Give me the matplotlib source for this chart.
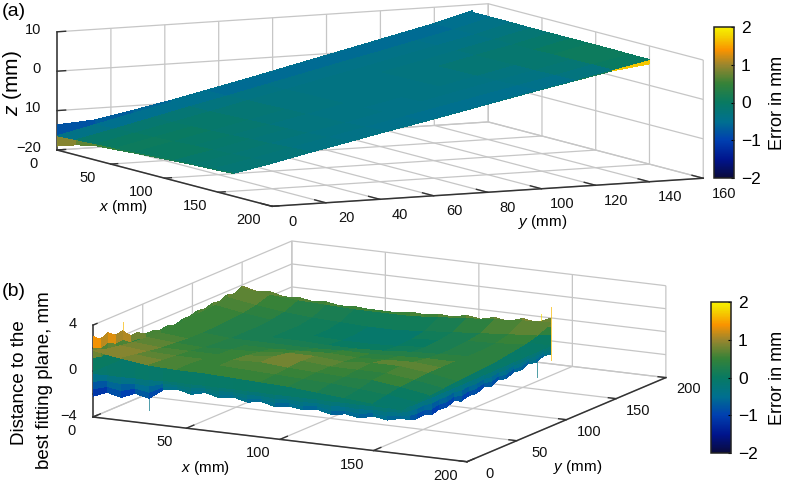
import numpy as np
import matplotlib
matplotlib.use("Agg")
import matplotlib.pyplot as plt
from matplotlib.cm import ScalarMappable
from matplotlib.colors import LinearSegmentedColormap, Normalize
from mpl_toolkits.mplot3d import proj3d

plt.rcParams['font.family'] = ['Liberation Sans', 'DejaVu Sans']
plt.rcParams['mathtext.fontset'] = 'custom'
plt.rcParams['mathtext.it'] = 'Liberation Sans:italic'
plt.rcParams['grid.color'] = '#c6c6c6'
plt.rcParams['grid.linewidth'] = 0.9

# panel (a): plate height and error on a grid
x_a = [0, 18, 37, 55, 73, 92, 110, 128, 147, 165]
y_a = [0, 14, 28, 42, 56, 70, 84, 98, 112, 126, 140, 154]
z_a = [
    [-16.4, -16.1, -15.8, -15.6, -15.3, -15.0, -14.7, -14.5, -14.2, -13.9],
    [-14.2, -14.0, -13.7, -13.5, -13.3, -13.0, -12.8, -12.6, -12.3, -11.9],
    [-12.0, -11.8, -11.6, -11.4, -11.2, -11.0, -10.7, -10.5, -10.2, -9.9],
    [-9.8, -9.6, -9.5, -9.3, -9.1, -8.9, -8.7, -8.5, -8.2, -7.9],
    [-7.6, -7.5, -7.3, -7.2, -7.0, -6.9, -6.7, -6.5, -6.2, -5.9],
    [-5.4, -5.3, -5.2, -5.0, -4.9, -4.8, -4.6, -4.4, -4.2, -4.0],
    [-3.2, -3.1, -3.0, -2.9, -2.8, -2.7, -2.6, -2.4, -2.2, -2.0],
    [-1.0, -0.9, -0.9, -0.8, -0.7, -0.6, -0.5, -0.3, -0.2, 0.0],
    [1.2, 1.2, 1.3, 1.3, 1.4, 1.5, 1.6, 1.7, 1.8, 2.0],
    [3.4, 3.4, 3.5, 3.5, 3.6, 3.6, 3.7, 3.7, 3.8, 3.9],
    [5.6, 5.6, 5.6, 5.7, 5.7, 5.7, 5.8, 5.8, 5.9, 5.9],
    [8.1, 8.1, 8.1, 8.0, 8.0, 8.0, 8.0, 8.0, 7.9, 7.9],
]
err_a = [
    [-0.4, -0.1, 0.0, 0.05, 0.0, 0.0, -0.1, -0.15, -0.2, -0.3],
    [-0.5, -0.15, -0.05, 0.0, -0.05, -0.1, -0.15, -0.2, -0.25, -0.4],
    [-0.5, -0.2, -0.1, -0.1, -0.15, -0.2, -0.25, -0.3, -0.35, -0.45],
    [-0.5, -0.3, -0.2, -0.2, -0.25, -0.3, -0.3, -0.35, -0.4, -0.5],
    [-0.55, -0.35, -0.3, -0.3, -0.3, -0.35, -0.35, -0.4, -0.45, -0.55],
    [-0.55, -0.4, -0.35, -0.35, -0.35, -0.35, -0.4, -0.4, -0.5, -0.6],
    [-0.55, -0.4, -0.35, -0.35, -0.35, -0.35, -0.35, -0.4, -0.5, -0.6],
    [-0.55, -0.4, -0.35, -0.3, -0.3, -0.3, -0.35, -0.4, -0.5, -0.6],
    [-0.55, -0.4, -0.35, -0.3, -0.2, -0.2, -0.3, -0.35, -0.45, -0.55],
    [-0.55, -0.45, -0.35, -0.25, -0.15, -0.15, -0.15, -0.2, -0.3, -0.5],
    [-0.5, -0.4, -0.3, -0.2, -0.1, 0.0, 0.05, 0.05, 0.0, -0.3],
    [-0.45, -0.35, -0.3, -0.15, -0.05, 0.1, 0.15, 0.2, 0.2, 0.3],
]
# lower rim of (a) along y=0 and along x=165, upper rim along x=0
rim_near_z = [-19.0, -17.4, -16.3, -16.0, -15.6, -15.3, -15.0, -14.7, -14.5, -14.2]
rim_near_err = [0.9, 0.7, 0.5, 0.3, 0.3, 0.2, 0.2, 0.1, 0.1, -0.3]
rim_far_z = [-14.1, -12.2, -10.1, -8.1, -6.1, -4.2, -2.2, -0.2, 1.8, 3.7, 5.6, 6.8]
rim_far_err = [-0.2, -0.3, -0.3, -0.3, -0.3, -0.3, -0.3, -0.2, -0.1, 0.2, 1.7, 1.9]
rim_back_z = [-13.6, -13.0, -11.2, -9.3, -7.2, -5.1, -2.9, -0.7, 1.5, 3.7, 5.9, 8.5]
rim_back_err = [-0.8, -0.7, -0.6, -0.5, -0.5, -0.5, -0.5, -0.5, -0.5, -0.5, -0.5, -0.5]

x_ticks_a = [0, 50, 100, 150, 200]
y_ticks_a = [0, 20, 40, 60, 80, 100, 120, 140, 160]
z_ticks_a = [-20, -10, 0, 10]
z_labels_a = ['\u221220', '10', '0', '10']

# panel (b): distance to the plane on a grid
x_b = [0, 15, 30, 45, 60, 75, 90, 105, 120, 135, 150, 165]
y_b = [0, 14, 27, 41, 55, 68, 82, 95, 109, 123, 136, 150]
z_b = [
    [1.8, 1.4, 1.1, 1.0, 1.0, 0.9, 0.8, 0.7, 0.5, 0.3, 0.1, -0.2],
    [1.4, 1.2, 1.0, 1.0, 1.1, 1.0, 0.9, 0.8, 0.7, 0.5, 0.3, 0.0],
    [1.2, 1.0, 0.9, 0.9, 1.1, 1.2, 1.0, 0.9, 0.8, 0.8, 0.5, 0.1],
    [1.0, 0.8, 0.8, 0.8, 1.0, 1.2, 1.1, 0.9, 0.9, 0.9, 0.6, 0.2],
    [0.9, 0.7, 0.6, 0.7, 0.8, 1.0, 1.0, 0.8, 1.0, 1.0, 0.7, 0.3],
    [0.8, 0.6, 0.5, 0.6, 0.6, 0.7, 0.8, 0.7, 0.8, 0.9, 0.7, 0.4],
    [0.9, 0.6, 0.4, 0.4, 0.4, 0.4, 0.5, 0.5, 0.6, 0.7, 0.7, 0.5],
    [1.0, 0.6, 0.4, 0.3, 0.3, 0.2, 0.2, 0.3, 0.5, 0.6, 0.7, 0.6],
    [1.1, 0.7, 0.4, 0.3, 0.2, 0.1, 0.1, 0.2, 0.4, 0.6, 0.7, 0.8],
    [1.2, 0.8, 0.5, 0.3, 0.2, 0.1, 0.1, 0.3, 0.5, 0.7, 0.8, 1.0],
    [1.4, 1.0, 0.7, 0.5, 0.4, 0.3, 0.3, 0.5, 0.7, 0.9, 1.1, 1.3],
    [1.7, 1.4, 1.2, 1.1, 1.0, 1.0, 1.0, 1.2, 1.4, 1.6, 1.8, 1.9],
]
err_b = [
    [0.9, 0.8, 0.6, 0.5, 0.5, 0.5, 0.4, 0.3, 0.2, 0.1, -0.1, -0.3],
    [0.9, 0.7, 0.6, 0.5, 0.6, 0.6, 0.5, 0.4, 0.3, 0.2, 0.0, -0.2],
    [0.8, 0.6, 0.5, 0.5, 0.7, 0.8, 0.6, 0.5, 0.4, 0.5, 0.2, -0.1],
    [0.7, 0.5, 0.4, 0.5, 0.6, 0.8, 0.7, 0.6, 0.5, 0.6, 0.3, 0.0],
    [0.6, 0.4, 0.3, 0.4, 0.5, 0.6, 0.6, 0.5, 0.7, 0.7, 0.4, 0.1],
    [0.5, 0.4, 0.3, 0.3, 0.3, 0.4, 0.5, 0.4, 0.5, 0.6, 0.4, 0.2],
    [0.5, 0.3, 0.2, 0.2, 0.2, 0.2, 0.3, 0.3, 0.3, 0.4, 0.4, 0.3],
    [0.5, 0.3, 0.2, 0.1, 0.1, 0.0, 0.0, 0.1, 0.2, 0.3, 0.4, 0.4],
    [0.5, 0.3, 0.2, 0.1, 0.0, -0.1, -0.1, 0.0, 0.2, 0.3, 0.4, 0.5],
    [0.6, 0.4, 0.2, 0.1, 0.0, -0.1, -0.1, 0.1, 0.2, 0.4, 0.5, 0.7],
    [0.7, 0.5, 0.3, 0.2, 0.1, 0.1, 0.1, 0.2, 0.4, 0.6, 0.7, 1.0],
    [0.9, 0.7, 0.5, 0.4, 0.3, 0.3, 0.3, 0.5, 0.7, 0.9, 1.2, 1.4],
]
# envelope of the noise along the four plate edges
edge_x_b = [0, 7.5, 15, 22.5, 30, 37.5, 45, 52.5, 60, 67.5, 75, 82.5, 90, 97.5, 105, 112.5,
            120, 127.5, 135, 142.5, 150, 157.5, 165]
edge_y_b = [0, 7.5, 15, 22.5, 30, 37.5, 45, 52.5, 60, 67.5, 75, 82.5, 90, 97.5, 105, 112.5,
            120, 127.5, 135, 142.5, 150]
low_near_b = [-2.2, -1.7, -2.0, -1.5, -1.8, -0.9, -0.7, -1.0, -0.7, -1.0, -0.8, -1.1, -0.9,
              -1.2, -1.0, -1.2, -1.0, -1.3, -1.1, -1.3, -1.0, -1.2, -0.9]
low_far_b = [-0.9, -1.3, -1.5, -1.4, -1.7, -1.5, -1.6, -1.3, -1.6, -1.4, -1.5, -1.2, -1.4,
             -1.1, -1.3, -1.0, -1.1, -0.8, -1.0, -0.7, -0.8]
high_left_b = [3.0, 2.5, 2.8, 2.3, 2.4, 1.7, 1.7, 1.3, 1.3, 1.1, 1.2, 1.0, 1.2, 1.2, 1.4,
               1.3, 1.5, 1.4, 1.7, 1.5, 1.9]
high_back_b = [1.9, 1.6, 1.7, 1.4, 1.5, 1.3, 1.4, 1.2, 1.3, 1.2, 1.2, 1.2, 1.4, 1.3, 1.5,
               1.4, 1.7, 1.5, 1.8, 1.6, 2.0, 1.8, 2.3]
# a few single spikes
spike_x_b = [30, 0, 165, 160, 165]
spike_y_b = [0, 30, 150, 150, 136]
spike_lo_b = [-2.8, 1.0, -1.3, 0.5, -2.3]
spike_hi_b = [-0.5, 3.2, 3.3, 2.6, -0.8]
spike_err_b = [-0.4, 1.6, 1.6, 1.8, -0.3]

x_ticks_b = [0, 50, 100, 150, 200]
y_ticks_b = [0, 50, 100, 150, 200]
z_ticks_b = [-4, -2, 0, 2, 4]
z_labelled_b = [-4, 0, 4]
z_labels_b = ['\u22124', '0', '4']

cbar_ticks = [-2, -1, 0, 1, 2]

W, H = 787, 483
cmap = LinearSegmentedColormap.from_list('err', [
    (0.0, '#0a0a3c'), (0.12, '#00148c'), (0.25, '#0040b0'), (0.375, '#00708f'),
    (0.5, '#087a62'), (0.625, '#358238'), (0.75, '#9a862e'), (0.85, '#fa9300'),
    (0.95, '#f4d800'), (1.0, '#f8f000')])
norm = Normalize(-2, 2)

fig = plt.figure(figsize=(W / 100, H / 100), dpi=100)


def project(ax, x, y, z):
    tx, ty, _ = proj3d.proj_transform(x, y, z, ax.get_proj())
    return ax.transData.transform((tx, ty))


def make_box(elev, azim, aspect, lims, corner_px, right_px):
    # orthographic box, scaled and moved so the x=0,y=0 floor corner lands on corner_px
    ax = fig.add_axes([0, 0, 1, W / H], projection='3d', proj_type='ortho')
    ax.computed_zorder = False
    ax.patch.set_alpha(0)
    ax.view_init(elev=elev, azim=azim)
    ax.set_box_aspect(aspect)
    ax.set_xlim(*lims[0], view_margin=0)
    ax.set_ylim(*lims[1], view_margin=0)
    ax.set_zlim(*lims[2], view_margin=0)
    ax.apply_aspect()
    a = project(ax, lims[0][0], lims[1][0], lims[2][0])
    b = project(ax, lims[0][1], lims[1][0], lims[2][0])
    ax.set_box_aspect(aspect, zoom=(right_px[0] - corner_px[0]) / (b[0] - a[0]))
    a = project(ax, lims[0][0], lims[1][0], lims[2][0])
    ax.set_position([(corner_px[0] - a[0]) / W, ((H - corner_px[1]) - a[1]) / H, 1, W / H])
    return ax


def band(ax, xs, ys, zs, errs, zorder):
    zs = np.array(zs, float)
    X = np.tile(xs, (zs.shape[0], 1))
    Y = np.tile(ys, (zs.shape[0], 1))
    ax.plot_surface(X, Y, zs, facecolors=cmap(norm(np.array(errs, float))), shade=False,
                    rstride=1, cstride=1, linewidth=0, edgecolor='none',
                    antialiased=False, zorder=zorder)


def style_axes(ax, xt, yt, zt, xlen, ylen):
    ax.grid(True)
    ax.set_xticks(xt)
    ax.set_yticks(yt)
    ax.set_zticks(zt)
    ax.set_xticklabels([])
    ax.set_yticklabels([])
    ax.set_zticklabels([])
    for axis, tl in zip((ax.xaxis, ax.yaxis, ax.zaxis), (xlen, ylen, 0.25)):
        axis.set_pane_color((1, 1, 1, 0))
        axis.pane.set_edgecolor('#c6c6c6')
        axis.pane.set_linewidth(0.9)
        axis.line.set_color('#333333')
        axis.line.set_linewidth(1.1)
        axis._axinfo['tick']['outward_factor'] = tl
        axis._axinfo['tick']['inward_factor'] = 0
        axis._axinfo['tick']['linewidth'] = {True: 1.0, False: 0.8}
        axis._axinfo['tick']['color'] = '#333333'
    ax.zaxis.set_ticks_position('lower')
    ax.tick_params(color='#333333')


def tick_text(ax, x, y, z, s, ha='center'):
    # tick labels sit at a 3D point of the box, drawn as flat figure text
    px = project(ax, x, y, z)
    fig.text(px[0] / W, px[1] / H, s, ha=ha, va='center', fontsize=10.5, color='#111111')


def add_cbar(px):
    cax = fig.add_axes([px[0] / W, 1 - px[3] / H, (px[1] - px[0]) / W, (px[3] - px[2]) / H])
    cb = fig.colorbar(ScalarMappable(norm=norm, cmap=cmap), cax=cax, ticks=cbar_ticks)
    cb.ax.tick_params(direction='in', length=2, width=0.8, labelsize=12.5, pad=5)
    cb.outline.set_linewidth(1.1)
    cb.outline.set_edgecolor('#222222')


# (a)
ax_a = make_box(7.5, -26.5, (481, 481, 119), ((0, 200), (0, 160), (-20, 10)), (57, 150), (272, 206))
XA, YA = np.meshgrid(x_a, y_a)
band(ax_a, x_a, [0] * 10, [rim_near_z, z_a[0]], [rim_near_err, rim_near_err], 3)
band(ax_a, [165] * 12, y_a, [rim_far_z, [r[-1] for r in z_a]], [rim_far_err, rim_far_err], 3)
band(ax_a, [0] * 12, y_a, [[r[0] for r in z_a], rim_back_z], [rim_back_err, rim_back_err], 3)
ax_a.plot_surface(XA, YA, np.array(z_a), facecolors=cmap(norm(np.array(err_a))), shade=False,
                  rstride=1, cstride=1, linewidth=0, edgecolor='none', antialiased=False, zorder=4)
style_axes(ax_a, x_ticks_a, y_ticks_a, z_ticks_a, 0.2, 0.65)
for t in x_ticks_a:
    tick_text(ax_a, t, -8.6, -23.2, str(t))
for t in y_ticks_a:
    tick_text(ax_a, 219, t, -22.6, str(t))
for t, s in zip(z_ticks_a, z_labels_a):
    tick_text(ax_a, -15, 0, t - 0.5, s, ha='right')
add_cbar((714, 734, 27, 178))

# (b)
ax_b = make_box(13, -62, (424, 424, 94.4), ((0, 200), (0, 200), (-4, 4)), (93, 417), (467, 462))
n_x, n_y = len(edge_x_b), len(edge_y_b)
low_n = np.array(low_near_b)
low_f = np.array(low_far_b)
hi_l = np.array(high_left_b)
hi_b = np.array(high_back_b)
z_rows = [low_n, low_n * 0.7, low_n * 0.4, low_n * 0.1, low_n * 0 + 1.9]
band(ax_b, edge_x_b, [0] * n_x, z_rows, [r * 0.5 for r in z_rows], 3)
z_rows = [low_f, low_f * 0.7, low_f * 0.4, low_f * 0.1, low_f * 0 + 1.9]
band(ax_b, [165] * n_y, edge_y_b, z_rows, [r * 0.6 for r in z_rows], 3)
z_rows = [hi_l * 0, hi_l * 0.4, hi_l * 0.7, hi_l]
band(ax_b, [0] * n_y, edge_y_b, z_rows, [r * 0.65 for r in z_rows], 3)
z_rows = [hi_b * 0, hi_b * 0.4, hi_b * 0.7, hi_b]
band(ax_b, edge_x_b, [150] * n_x, z_rows, [r * 0.6 for r in z_rows], 3)
for sx, sy, lo, hi, e in zip(spike_x_b, spike_y_b, spike_lo_b, spike_hi_b, spike_err_b):
    ax_b.plot([sx, sx], [sy, sy], [lo, hi], color=cmap(norm(e)), lw=0.7, alpha=0.7, zorder=2)
XB, YB = np.meshgrid(x_b, y_b)
ax_b.plot_surface(XB, YB, np.array(z_b), facecolors=cmap(norm(np.array(err_b))), shade=False,
                  rstride=1, cstride=1, linewidth=0, edgecolor='none', antialiased=False, zorder=4)
style_axes(ax_b, x_ticks_b, y_ticks_b, z_ticks_b, 0.46, 0.26)
for t in x_ticks_b:
    tick_text(ax_b, t - 3, -16, -4.7, str(t))
for t in y_ticks_b:
    tick_text(ax_b, 212, t, -4.8, str(t))
for t, s in zip(z_labelled_b, z_labels_b):
    tick_text(ax_b, -8.5, 0, t - 0.1, s, ha='right')
add_cbar((711, 731, 302, 453))

# axis titles and panel letters, placed in figure pixels
def label(px, py, s, **kw):
    fig.text(px / W, 1 - py / H, s, ha='center', va='center', **kw)


label(14, 12, '(a)', fontsize=14)
label(14, 292, '(b)', fontsize=14)
label(12, 83, r'$\mathit{z}$ (mm)', fontsize=15, rotation=90)
label(124, 207, r'$\mathit{x}$ (mm)', fontsize=11)
label(543, 222, r'$\mathit{y}$ (mm)', fontsize=11)
label(206, 468, r'$\mathit{x}$ (mm)', fontsize=11)
label(578, 467, r'$\mathit{y}$ (mm)', fontsize=11)
label(20, 383, 'Distance to the', fontsize=13.5, rotation=90)
label(45, 380, 'best fitting plane, mm', fontsize=13.5, rotation=90)
label(777, 103, 'Error in mm', fontsize=13, rotation=90)
label(777, 378, 'Error in mm', fontsize=13, rotation=90)

fig.savefig('out.png', dpi=100)
